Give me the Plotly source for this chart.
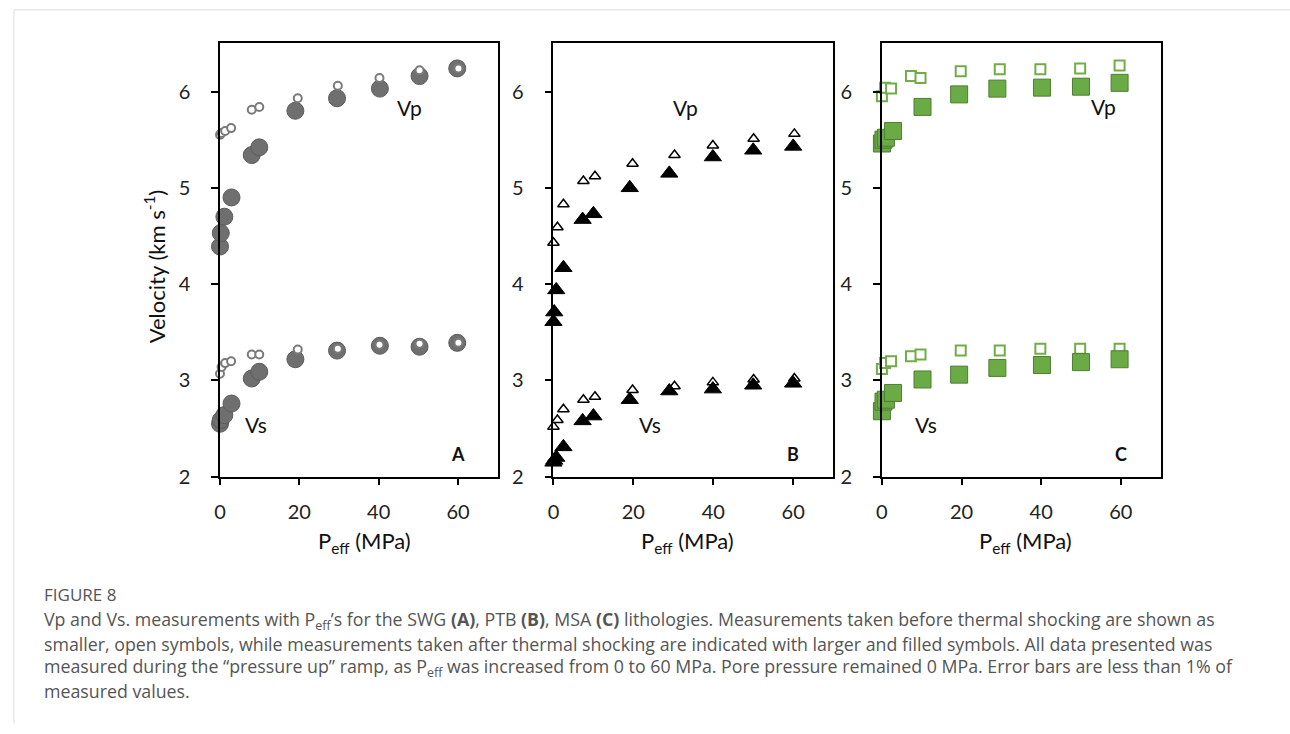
import plotly.graph_objects as go

# ---------------- data ----------------
A_P_filled = [0, 0.2, 1.1, 2.9, 8, 9.9, 19, 29.5, 40.3, 50.3, 59.8]
A_Vp_filled = [4.39, 4.53, 4.70, 4.90, 5.34, 5.42, 5.80, 5.93, 6.03, 6.16, 6.24]
A_Vs_filled = [2.55, 2.59, 2.64, 2.76, 3.02, 3.09, 3.22, 3.31, 3.36, 3.35, 3.39]
A_P_open = [0, 0.4, 1.3, 2.8, 8, 9.9, 19.6, 29.7, 40.2, 50.3, 60.1]
A_Vp_open = [5.55, 5.57, 5.59, 5.62, 5.81, 5.84, 5.93, 6.06, 6.14, 6.22, 6.24]
A_Vs_open = [3.07, 3.14, 3.18, 3.20, 3.27, 3.27, 3.32, 3.33, 3.37, 3.38, 3.39]

B_P_filled = [0, 0.2, 0.7, 2.5, 7.3, 10, 19.1, 29, 39.9, 50, 60]
B_Vp_filled = [3.61, 3.71, 3.94, 4.17, 4.67, 4.73, 5.00, 5.15, 5.32, 5.39, 5.43]
B_Vs_filled = [2.15, 2.17, 2.20, 2.31, 2.58, 2.63, 2.80, 2.89, 2.91, 2.95, 2.97]
B_P_open = [0, 1, 2.5, 7.5, 10.4, 19.8, 30.3, 39.9, 50.1, 60.3]
B_Vp_open = [4.43, 4.59, 4.83, 5.07, 5.12, 5.25, 5.34, 5.44, 5.51, 5.56]
B_Vs_open = [2.52, 2.59, 2.70, 2.80, 2.83, 2.90, 2.94, 2.98, 3.01, 3.02]

C_P_filled = [0, 0.4, 1, 2.8, 10.2, 19.4, 29, 40.2, 50, 59.7]
C_Vp_filled = [5.46, 5.50, 5.52, 5.59, 5.84, 5.97, 6.03, 6.04, 6.05, 6.09]
C_Vs_filled = [2.68, 2.78, 2.80, 2.87, 3.01, 3.06, 3.13, 3.16, 3.19, 3.22]
C_P_open = [0, 0.8, 2.3, 7.3, 9.7, 19.8, 29.6, 39.8, 49.8, 59.7]
C_Vp_open = [5.95, 6.04, 6.03, 6.16, 6.14, 6.21, 6.23, 6.23, 6.24, 6.27]
C_Vs_open = [3.12, 3.18, 3.20, 3.25, 3.27, 3.31, 3.31, 3.33, 3.33, 3.33]

x_ticks = [0, 20, 40, 60]
y_ticks = [2, 3, 4, 5, 6]
panel_letters = ["A", "B", "C"]

W, H = 1290, 734
# ---------------- figure ----------------
fig = go.Figure()

def add(P, V, xa, ya, symbol, size, fill, lc, lw):
    fig.add_trace(go.Scatter(x=P, y=V, mode="markers", xaxis=xa, yaxis=ya,
                             showlegend=False, hoverinfo="skip", cliponaxis=False,
                             marker=dict(symbol=symbol, size=size, color=fill,
                                         line=dict(color=lc, width=lw))))

# Panel A (open on top)
for V in (A_Vp_filled, A_Vs_filled):
    add(A_P_filled, V, "x", "y", "circle", 17, "#6f6f6f", "#5c5c5c", 1)
for V in (A_Vp_open, A_Vs_open):
    add(A_P_open, V, "x", "y", "circle", 8, "white", "#7a7a7a", 2)
# Panel B
for V in (B_Vp_open, B_Vs_open):
    add(B_P_open, V, "x2", "y2", "triangle-up", 10, "white", "black", 1.5)
for V in (B_Vp_filled, B_Vs_filled):
    add(B_P_filled, V, "x2", "y2", "triangle-up", 15, "black", "black", 1)
# Panel C
for V in (C_Vp_open, C_Vs_open):
    add(C_P_open, V, "x3", "y3", "square", 10, "white", "#70ad47", 2)
for V in (C_Vp_filled, C_Vs_filled):
    add(C_P_filled, V, "x3", "y3", "square", 17, "#6aab45", "#4f7d33", 1)

px_dom = [(215, 494), (550, 831), (880, 1160)]
ydom = [1 - 484 / H, 1 - 44 / H]
tickfont = dict(family="Lato, Open Sans, sans-serif", size=20, color="#222")
axis_common = dict(showline=True, linecolor="black", linewidth=1.5, mirror=True,
                   ticks="outside", ticklen=7, tickwidth=1.5, tickcolor="black",
                   showgrid=False, zeroline=False, tickfont=tickfont)
for i, (a, b) in enumerate(px_dom):
    sfx = "" if i == 0 else str(i + 1)
    fig.update_layout(**{
        "xaxis" + sfx: dict(domain=[a / W, b / W], range=[0, 70], tickvals=x_ticks,
                            anchor="y" + sfx, ticklabelstandoff=10, **axis_common),
        "yaxis" + sfx: dict(domain=ydom, range=[2, 6.5], tickvals=y_ticks,
                            anchor="x" + sfx, ticklabelstandoff=17, **axis_common),
    })

ann = []
font_lbl = dict(family="Lato, Open Sans, sans-serif", size=21, color="#111")
# Vp / Vs labels and panel letters
labels = [("x", "y", 47.8, 5.83, "Vp"), ("x", "y", 9, 2.54, "Vs"),
          ("x2", "y2", 33, 5.83, "Vp"), ("x2", "y2", 24.2, 2.54, "Vs"),
          ("x3", "y3", 55.6, 5.84, "Vp"), ("x3", "y3", 11, 2.54, "Vs")]
for xr, yr, xv, yv, t in labels:
    ann.append(dict(x=xv, y=yv, xref=xr, yref=yr, text=t, showarrow=False,
                    xanchor="center", yanchor="middle", font=font_lbl))
for (xr, yr), t in zip([("x", "y"), ("x2", "y2"), ("x3", "y3")], panel_letters):
    ann.append(dict(x=60, y=2.24, xref=xr, yref=yr, text="<b>" + t + "</b>", showarrow=False,
                    xanchor="center", yanchor="middle",
                    font=dict(family="Lato, Open Sans, sans-serif", size=18, color="#111")))
# x-axis titles
for cx in (360, 685, 1024):
    ann.append(dict(x=cx / W, y=1 - 550 / H, xref="paper", yref="paper",
                    xanchor="center", yanchor="middle",
                    text="P<sub>eff</sub> (MPa)", showarrow=False,
                    font=dict(family="Lato, Open Sans, sans-serif", size=22, color="#111")))
# y-axis title
ann.append(dict(x=150 / W, y=1 - 271 / H, xref="paper", yref="paper", textangle=-90,
                xanchor="center", yanchor="middle",
                text="Velocity (km s<sup>-1</sup>)", showarrow=False,
                font=dict(family="Lato, Open Sans, sans-serif", size=22, color="#111")))

# caption
cap_font = dict(family="Open Sans, sans-serif", size=17.8, color="#555")
ann.append(dict(x=36 / W, y=1 - 604 / H, xref="paper", yref="paper",
                xanchor="left", yanchor="middle",
                text="FIGURE 8", showarrow=False,
                font=dict(family="Open Sans, sans-serif", size=17, color="#555")))
cap_lines = [
    "Vp and Vs. measurements with P<sub>eff</sub>’s for the SWG <b>(A)</b>, PTB <b>(B)</b>, MSA <b>(C)</b> lithologies. Measurements taken before thermal shocking are shown as",
    "smaller, open symbols, while measurements taken after thermal shocking are indicated with larger and filled symbols. All data presented was",
    "measured during the “pressure up” ramp, as P<sub>eff</sub> was increased from 0 to 60 MPa. Pore pressure remained 0 MPa. Error bars are less than 1% of",
    "measured values.",
]
for k, line in enumerate(cap_lines):
    ann.append(dict(x=36 / W, y=1 - (630 + 24 * k) / H, xref="paper", yref="paper",
                    xanchor="left", yanchor="middle", text=line, showarrow=False, font=cap_font))

fig.update_layout(
    width=W, height=H, margin=dict(l=0, r=0, t=0, b=0),
    paper_bgcolor="white", plot_bgcolor="white",
    annotations=ann,
    shapes=[
        dict(type="line", xref="paper", yref="paper", x0=8 / W, x1=1, y0=1 - 10 / H, y1=1 - 10 / H,
             line=dict(color="#dddddd", width=1)),
        dict(type="line", xref="paper", yref="paper", x0=8 / W, x1=8 / W, y0=0, y1=1 - 10 / H,
             line=dict(color="#dddddd", width=1)),
    ],
)

post = "document.documentElement.style.margin='0px';document.body.style.margin='0px';document.body.style.padding='0px';"
fig.write_html("out.html", config={"displayModeBar": False}, post_script=post)
